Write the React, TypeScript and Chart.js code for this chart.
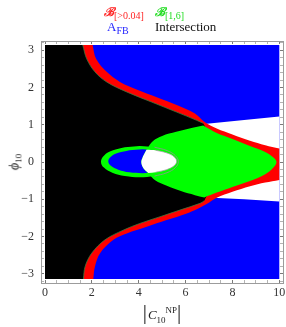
import React, { useEffect, useRef } from 'react';
import { Chart, registerables } from 'chart.js';

Chart.register(...registerables);

type P = [number, number];

const PHI = 3.1416;

// ---- axis ticks ----
const xTickValues = [0, 0.5, 1, 1.5, 2, 2.5, 3, 3.5, 4, 4.5, 5, 5.5, 6, 6.5, 7, 7.5, 8, 8.5, 9, 9.5, 10];
const xTickLabels = [0, 2, 4, 6, 8, 10];
const yTickValues = [-3.2, -3, -2.8, -2.6, -2.4, -2.2, -2, -1.8, -1.6, -1.4, -1.2, -1, -0.8, -0.6, -0.4, -0.2, 0,
  0.2, 0.4, 0.6, 0.8, 1, 1.2, 1.4, 1.6, 1.8, 2, 2.2, 2.4, 2.6, 2.8, 3, 3.2];
const yTickLabels = [-3, -2, -1, 0, 1, 2, 3];

// ---- plotted range of |C10^NP| and phi10 ----
const cRange: P = [0, 10];
const phiRange: P = [-PHI, PHI];

// ---- legend ----
const legendMain = ['ℬ', 'ℬ', 'A', 'Intersection'];
const legendSub = ['[>0.04]', '[1,6]', 'FB', ''];

// ---- region boundaries (|C10|, phi10) ----
// inner edge of B[>0.04] band (Intersection / red)
const innerUpper: P[] = [[1.61, PHI], [1.78, 2.77], [2.13, 2.42], [2.63, 2.15], [3.49, 1.88], [4.55, 1.61], [5.62, 1.34], [6.47, 1.12], [6.75, 1.04]];
const innerHidden: P[] = [[7.2, 0.5], [7.0, 0], [7.2, -0.5]];
const innerLower: P[] = [[6.8, -1.04], [6.62, -1.11], [5.76, -1.29], [4.91, -1.47], [4.05, -1.65], [3.34, -1.83], [2.56, -2.09], [1.99, -2.45], [1.71, -2.81], [1.64, -PHI]];
// outer edge of B[>0.04] band (red / A_FB)
const outerUpper: P[] = [[2.03, PHI], [2.18, 2.77], [2.63, 2.42], [3.2, 2.15], [3.91, 1.95], [4.77, 1.74], [5.62, 1.53], [6.4, 1.3], [6.8, 1.08]];
const lensOuterUpper: P[] = [[7.33, 0.9], [8, 0.74], [8.75, 0.57], [9.4, 0.45], [10, 0.36]];
const lensOuterLower: P[] = [[10, -0.48], [9.4, -0.55], [8.75, -0.65], [8, -0.8], [7.33, -0.96]];
const outerLower: P[] = [[6.9, -1.13], [6.5, -1.26], [6.05, -1.38], [5.19, -1.56], [4.34, -1.74], [3.49, -1.92], [2.92, -2.09], [2.35, -2.45], [2.13, -2.81], [2.06, -PHI]];
// uncovered wedge (white)
const wedge: P[] = [[6.4, 0], [6.8, 1.02], [8.5, 1.13], [10, 1.22], [10, -1.06], [8.5, -1.0], [6.9, -0.95]];
// B[1,6] lens (green)
const lensRight: P[] = [[6.75, 0.98], [7.33, 0.78], [8, 0.62], [8.75, 0.43], [9.4, 0.27], [9.75, 0.12], [9.88, 0], [9.75, -0.15], [9.4, -0.33], [8.75, -0.51], [8, -0.67], [7.33, -0.82], [6.8, -0.95]];
const lensLeft: P[] = [[6.4, -0.89], [5.8, -0.78], [5.2, -0.64], [4.7, -0.49], [4.41, -0.31], [4.2, -0.17], [4.11, 0], [4.18, 0.15], [4.35, 0.34], [4.6, 0.56], [5.0, 0.7], [5.6, 0.81], [6.3, 0.92]];
// small B[1,6] ring (green) and its hole (blue)
const ringOuter: P[] = [[4.04, 0.43], [4.672, 0.398], [5.207, 0.307], [5.565, 0.171], [5.69, 0.01], [5.565, -0.151], [5.207, -0.287], [4.672, -0.378],
  [4.04, -0.41], [3.408, -0.378], [2.873, -0.287], [2.515, -0.151], [2.39, 0.01], [2.515, 0.171], [2.873, 0.307], [3.408, 0.398]];
const ringInner: P[] = [[4.16, 0.34], [4.719, 0.316], [5.192, 0.246], [5.509, 0.143], [5.62, 0.02], [5.509, -0.103], [5.192, -0.206], [4.719, -0.276],
  [4.16, -0.3], [3.601, -0.276], [3.128, -0.206], [2.811, -0.103], [2.7, 0.02], [2.811, 0.143], [3.128, 0.246], [3.601, 0.316]];
// hole inside lens (white)
const coreArc: P[] = [[4.33, 0.33], [4.719, 0.316], [5.192, 0.246], [5.509, 0.143], [5.62, 0.02], [5.509, -0.103], [5.192, -0.206], [4.719, -0.276], [4.41, -0.295]];
const coreLeft: P[] = [[4.2, -0.17], [4.11, 0], [4.18, 0.15]];

// ---- styles ----
const serif = '"Liberation Serif", "Times New Roman", serif';
const BLUE = '#0000ff';
const RED = '#ff0000';
const GREEN = '#00ff00';
const BLACK = '#000000';
const WHITE = '#ffffff';

const pts = (a: P[]) => a.map(([x, y]) => ({ x, y }));
const corner = (p: P): P[] => [p, p];
const last = <T,>(a: T[]) => a[a.length - 1];

function buildDatasets() {
  const [c0, c1] = cRange;
  const [pLo, pHi] = phiRange;
  const rect: P[] = [[c0, pLo], [c0, pHi], [c1, pHi], [c1, pLo]];
  const redPoly: P[] = [
    ...corner([c0, pHi]), ...corner(outerUpper[0]), ...outerUpper.slice(1),
    ...lensOuterUpper.slice(0, -1), ...corner(last(lensOuterUpper)),
    ...corner(lensOuterLower[0]), ...lensOuterLower.slice(1),
    ...outerLower.slice(0, -1), ...corner(last(outerLower)), ...corner([c0, pLo]),
  ];
  const blackPoly: P[] = [
    ...corner([c0, pHi]), ...corner(innerUpper[0]), ...innerUpper.slice(1, -1), ...corner(last(innerUpper)),
    ...innerHidden,
    ...corner(innerLower[0]), ...innerLower.slice(1, -1), ...corner(last(innerLower)), ...corner([c0, pLo]),
  ];
  const lensPoly: P[] = [...corner(lensRight[0]), ...lensRight.slice(1, -1), ...corner(last(lensRight)), ...lensLeft];
  const corePoly: P[] = [...corner(coreArc[0]), ...coreArc.slice(1, -1), ...corner(last(coreArc)), ...coreLeft];

  const area = (data: P[], color: string, tension: number) => ({
    data: pts(data), backgroundColor: color, borderColor: color, borderWidth: 0,
    fill: 'shape', tension, pointRadius: 0, pointHoverRadius: 0,
  });
  const stroke = (data: P[], color: string, width: number, tension: number) => ({
    data: pts(data), borderColor: color, backgroundColor: color, borderWidth: width,
    fill: false, tension, pointRadius: 0, pointHoverRadius: 0,
  });

  const layers: any[] = [
    area(rect, BLUE, 0),
    area(wedge, WHITE, 0),
    area(redPoly, RED, 0.35),
    area(blackPoly, BLACK, 0.35),
    stroke(innerUpper, '#3c7a3c', 0.8, 0.35),
    stroke(innerLower, '#3c7a3c', 0.8, 0.35),
    area(ringOuter, GREEN, 0.4),
    area(ringInner, BLUE, 0.4),
    area(lensPoly, GREEN, 0.35),
    area(corePoly, WHITE, 0.35),
    stroke(ringOuter.slice(1, 8), '#8a9a8a', 0.9, 0.4),
    stroke(ringInner.slice(1, 8), '#9aa09a', 0.8, 0.4),
  ];
  const n = layers.length;
  return layers.map((d, i) => ({ ...d, order: n - i }));
}

const fmt = (v: number) => (v < 0 ? '\u2212' + Math.abs(v) : String(v));

function frameAxis(axis: 'x' | 'y', position: string, min: number, max: number, values: number[], majors: number[],
  showLabels: boolean, pad: number, size: number) {
  return {
    type: 'linear', axis, position, min, max,
    afterBuildTicks: (s: any) => { s.ticks = values.map((v) => ({ value: v })); },
    afterFit: (s: any) => {
      if (axis === 'x') s.height = size; else s.width = size;
      s.paddingLeft = 0; s.paddingRight = 0; s.paddingTop = 0; s.paddingBottom = 0;
    },
    grid: {
      display: true, drawOnChartArea: false, drawTicks: true, tickLength: -3, tickWidth: 1,
      tickColor: (ctx: any) => (ctx.tick && majors.includes(ctx.tick.value) ? '#7a7a7a' : '#b4b4b4'),
    },
    border: { display: true, color: '#9c9c9c', width: 1 },
    ticks: {
      display: showLabels, autoSkip: false, maxRotation: 0, minRotation: 0, padding: pad,
      font: { family: serif, size: 12 }, color: '#333333',
      callback: (v: number) => (majors.includes(v) ? fmt(v) : ''),
    },
  };
}

export default function App() {
  const ref = useRef<HTMLCanvasElement>(null);

  useEffect(() => {
    const canvas = ref.current;
    if (!canvas) return;
    const xLo = -0.171, xHi = 10.158, yLo = -3.249, yHi = 3.249;
    const chart = new Chart(canvas, {
      type: 'line',
      data: { datasets: buildDatasets() as any },
      options: {
        animation: false,
        responsive: false,
        maintainAspectRatio: false,
        events: [],
        layout: { padding: { left: 0, right: 3, top: 41, bottom: 0 } },
        plugins: { legend: { display: false }, tooltip: { enabled: false }, title: { display: false } },
        scales: {
          x: frameAxis('x', 'bottom', xLo, xHi, xTickValues, xTickLabels, true, 6, 44),
          xTop: frameAxis('x', 'top', xLo, xHi, xTickValues, xTickLabels, false, 0, 0),
          y: frameAxis('y', 'left', yLo, yHi, yTickValues, yTickLabels, true, 10, 41),
          yRight: frameAxis('y', 'right', yLo, yHi, yTickValues, yTickLabels, false, 0, 0),
        } as any,
      },
    });
    return () => chart.destroy();
  }, []);

  const legendColors = ['#ff2424', '#22dd22', '#2424ff', '#111111'];
  const legendPos = [[104, 5], [155, 5], [107, 20], [155, 20]];

  return (
    <div style={{ position: 'fixed', left: 0, top: 0, width: 286, height: 327, background: '#fff', overflow: 'hidden' }}>
      <canvas ref={ref} width={286} height={327} style={{ position: 'absolute', left: 0, top: 0, display: 'block' }} />
      {legendMain.map((m, i) => (
        <div key={i} style={{
          position: 'absolute', left: legendPos[i][0], top: legendPos[i][1], whiteSpace: 'nowrap',
          fontFamily: serif, fontSize: 13, lineHeight: '13px', color: legendColors[i],
        }}>
          <span style={m === 'ℬ' ? { fontFamily: '"DejaVu Serif", serif', fontWeight: 'bold', fontStyle: 'italic', fontSize: 12 } : {}}>{m}</span>
          {legendSub[i] ? <span style={{ fontSize: 10, position: 'relative', top: 3 }}>{legendSub[i]}</span> : null}
        </div>
      ))}
      <div style={{
        position: 'absolute', left: 15, top: 162, transform: 'translate(-50%, -50%) rotate(-90deg)',
        fontFamily: serif, fontSize: 14, lineHeight: '14px', whiteSpace: 'nowrap', color: '#222',
      }}>
        <span style={{ fontStyle: 'italic' }}>ϕ</span>
        <span style={{ fontSize: 9, position: 'relative', top: 3 }}>10</span>
      </div>
      <div style={{
        position: 'absolute', left: 41, width: 242, top: 301, textAlign: 'center',
        fontFamily: serif, fontSize: 13, lineHeight: '22px', whiteSpace: 'nowrap', color: '#222',
      }}>
        <span style={{ fontSize: 21 }}>|</span>
        <span style={{ fontStyle: 'italic', marginLeft: 1 }}>C</span>
        <span style={{ fontSize: 9, position: 'relative', top: 4 }}>10</span>
        <span style={{ fontSize: 9, position: 'relative', top: -6 }}>NP</span>
        <span style={{ fontSize: 21 }}>|</span>
      </div>
    </div>
  );
}
